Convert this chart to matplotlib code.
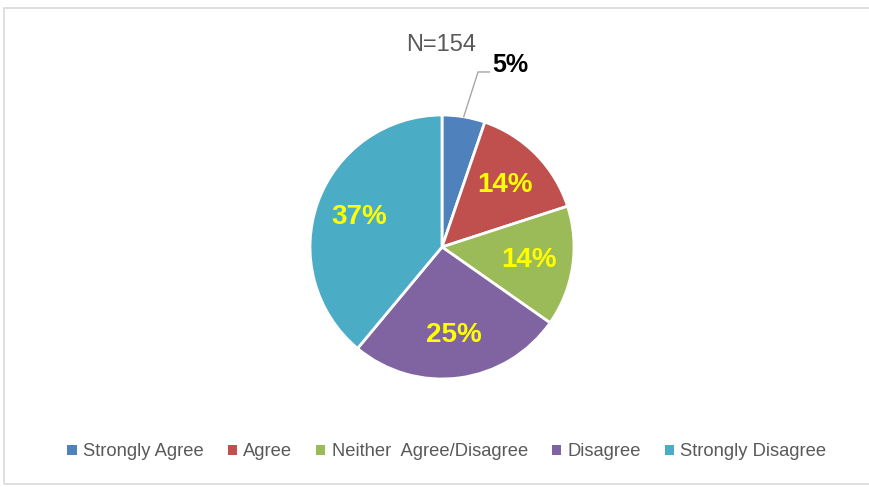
import numpy as np
import matplotlib
matplotlib.use('Agg')
import matplotlib.pyplot as plt
from matplotlib.patches import Rectangle, Patch

# Survey responses (percent, as labelled on the chart)
categories = ['Strongly Agree', 'Agree', 'Neither  Agree/Disagree', 'Disagree', 'Strongly Disagree']
values = [5, 14, 14, 25, 37]
colors = ['#4F81BD', '#C0504D', '#9BBB59', '#8064A2', '#4BACC6']
n_label = 'N=154'

plt.rcParams['font.family'] = ['Liberation Sans', 'DejaVu Sans']

W, H = 870, 487
fig = plt.figure(figsize=(W / 100, H / 100), dpi=100)

# light frame around the chart area
fig.patches.append(Rectangle((4 / W, 3 / H), 1 - 4 / W + 0.01, 1 - 11 / H,
                             transform=fig.transFigure, fill=False,
                             edgecolor='#D9D9D9', linewidth=1.2))

cx, cy, r = 442, 247, 132
ax = fig.add_axes([(cx - r) / W, (H - cy - r) / H, 2 * r / W, 2 * r / H])

wedges, texts = ax.pie(values, colors=colors, startangle=90, counterclock=False,
                       labels=[f'{v}%' for v in values], labeldistance=0.67,
                       wedgeprops=dict(edgecolor='white', linewidth=2),
                       radius=1)
ax.set_xlim(-1, 1)
ax.set_ylim(-1, 1)
ax.set_aspect('equal')
ax.axis('off')

for t in texts:
    t.set_color('#FFFF00')
    t.set_fontsize(20)
    t.set_fontweight('bold')
    t.set_ha('center')
    t.set_va('center')

# small first slice gets a leader line and an outside black label
texts[0].set_visible(False)
total = sum(values)
mid = np.deg2rad(90 - 0.5 * values[0] / total * 360)
p0 = (np.cos(mid), np.sin(mid))
p1 = (0.273, 1.326)
p2 = (0.36, 1.326)
ax.plot([p0[0], p1[0], p2[0]], [p0[1], p1[1], p2[1]], color='#A6A6A6',
        linewidth=1, clip_on=False)
ax.text(p2[0] + 0.02, 1.38, texts[0].get_text(), color='black', fontsize=18,
        fontweight='bold', ha='left', va='center', clip_on=False)

fig.text(441 / W, 1 - 45 / H, n_label, color='#595959', fontsize=17,
         ha='center', va='center')

handles = [Patch(facecolor=c, edgecolor='none') for c in colors]
fig.legend(handles, categories, loc='center', bbox_to_anchor=(447 / W, (H - 452) / H),
           ncol=5, frameon=False, fontsize=13.2, labelcolor='#595959',
           handlelength=0.5, handleheight=0.5, handletextpad=0.35,
           columnspacing=1.3)

fig.savefig('out.png', dpi=100, facecolor='white')
